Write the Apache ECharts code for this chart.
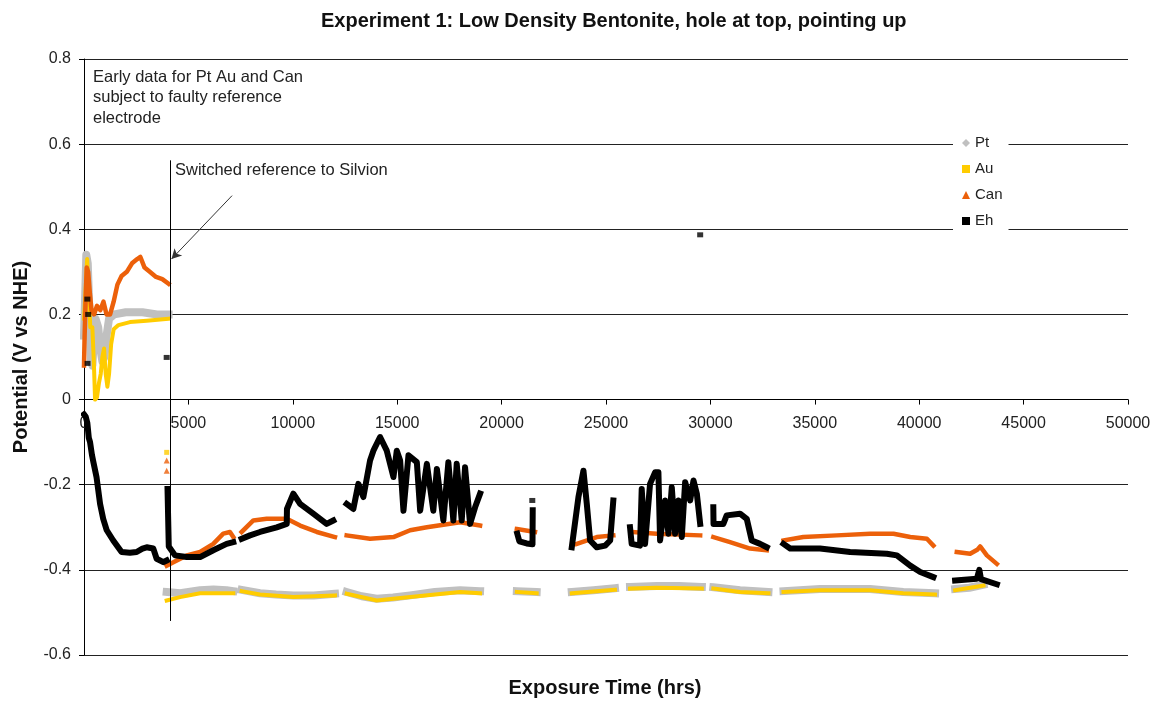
<!DOCTYPE html>
<html>
<head>
<meta charset="utf-8">
<title>Experiment 1: Low Density Bentonite</title>
<style>
  html, body { margin: 0; padding: 0; background: #fff; }
  #chart { width: 1160px; height: 702px; }
</style>
<script src="https://cdn.jsdelivr.net/npm/echarts@6.0.0/dist/echarts.min.js"></script>
</head>
<body>
<div id="chart"></div>
<script>
// [hours, volts]; [x, null] breaks the trace
const ptData = [
  [0, 0.15], [60, 0.25], [110, 0.34], [180, 0.32], [250, 0.22], [330, 0.09], [400, 0.08], [470, 0.14],
  [550, 0.19], [680, 0.17], [780, 0.12], [880, 0.09], [980, 0.1], [1080, 0.15], [1200, 0.19], [1450, 0.2],
  [2000, 0.205], [2800, 0.205], [3500, 0.2], [4050, 0.2], [4055, null],
  [3960, -0.452], [4600, -0.455], [5560, -0.448], [6200, -0.446], [6830, -0.448], [7150, -0.45], [7350, null],
  [7550, -0.447], [8430, -0.455], [9200, -0.458], [10030, -0.46], [11000, -0.46], [12020, -0.456], [12300, null],
  [12580, -0.452], [13300, -0.462], [14020, -0.468], [14800, -0.465], [15620, -0.46], [16800, -0.452], [18010, -0.448], [18970, -0.45], [19800, null],
  [20730, -0.45], [21680, -0.452], [22500, null],
  [23360, -0.452], [24400, -0.448], [25430, -0.443], [25800, null],
  [26150, -0.44], [27430, -0.438], [28500, -0.438], [29590, -0.44], [29850, null],
  [30140, -0.441], [31420, -0.448], [32780, -0.452], [33100, null],
  [33500, -0.45], [35250, -0.445], [37650, -0.445], [39240, -0.452], [40760, -0.455], [41200, null],
  [41720, -0.445], [42400, -0.442], [43080, -0.435],
];

const auData = [
  [0, 0.19], [80, 0.26], [150, 0.33], [220, 0.26], [300, 0.17], [400, 0.17], [470, 0.09], [530, 0.0],
  [620, 0.005], [720, 0.04], [800, 0.06], [880, 0.1], [960, 0.12], [1040, 0.06], [1120, 0.03], [1200, 0.06],
  [1300, 0.13], [1420, 0.165], [1650, 0.175], [2200, 0.182], [3000, 0.185], [4050, 0.19], [4055, null],
  [3960, -0.472], [4600, -0.464], [5560, -0.455], [6830, -0.455], [7150, -0.455], [7350, null],
  [7550, -0.45], [8430, -0.458], [10030, -0.464], [12020, -0.46], [12300, null],
  [12580, -0.456], [14020, -0.472], [15620, -0.464], [18010, -0.452], [18970, -0.455], [19800, null],
  [20730, -0.452], [21680, -0.455], [22500, null],
  [23360, -0.455], [25430, -0.447], [25800, null],
  [26150, -0.444], [27430, -0.442], [29590, -0.444], [29850, null],
  [30140, -0.444], [31420, -0.452], [32780, -0.455], [33100, null],
  [33500, -0.452], [35250, -0.448], [37650, -0.448], [39240, -0.455], [40760, -0.458], [41200, null],
  [41720, -0.448], [43080, -0.437],
];

const canData = [
  [0, 0.08], [30, 0.15], [70, 0.22], [130, 0.31], [200, 0.3], [280, 0.25], [360, 0.21], [480, 0.2],
  [620, 0.22], [780, 0.21], [930, 0.23], [1080, 0.2], [1250, 0.2], [1420, 0.23], [1600, 0.27], [1800, 0.29],
  [2050, 0.3], [2300, 0.32], [2550, 0.33], [2700, 0.335], [2900, 0.31], [3150, 0.3], [3450, 0.288],
  [3750, 0.283], [4050, 0.272], [4055, null],
  [3960, -0.39], [4280, -0.382], [4920, -0.366], [5560, -0.358], [6190, -0.339], [6670, -0.315], [6990, -0.311], [7150, -0.323], [7350, null],
  [7550, -0.311], [8110, -0.284], [8750, -0.28], [9710, -0.28], [10350, -0.296], [11150, -0.311], [12020, -0.323], [12300, null],
  [12580, -0.319], [13700, -0.327], [14820, -0.323], [15620, -0.307], [16420, -0.3], [18010, -0.288], [18970, -0.296], [19800, null],
  [20730, -0.304], [21600, -0.311], [22500, null],
  [23600, -0.339], [24560, -0.323], [25350, -0.319], [25800, null],
  [26230, -0.311], [27430, -0.315], [29510, -0.319], [29850, null],
  [30140, -0.323], [30940, -0.335], [31900, -0.35], [32700, -0.354], [33100, null],
  [33500, -0.331], [34450, -0.323], [36050, -0.319], [37650, -0.315], [38770, -0.315], [39570, -0.323], [40370, -0.327], [40680, -0.343], [41200, null],
  [41800, -0.358], [42440, -0.362], [42800, -0.352], [42920, -0.345], [43240, -0.366], [43720, -0.386],
];

const ehData = [
  [0, -0.035], [80, -0.04], [160, -0.055], [230, -0.09], [290, -0.1], [380, -0.13], [450, -0.147], [600, -0.182],
  [770, -0.245], [920, -0.28], [1090, -0.307], [1400, -0.331], [1800, -0.358], [2200, -0.36], [2520, -0.358],
  [2800, -0.35], [3000, -0.347], [3320, -0.35], [3480, -0.374], [3800, -0.382], [3960, -0.378], [3980, null],
  [4000, -0.21], [4060, -0.345], [4360, -0.366], [4920, -0.37], [5560, -0.37], [6190, -0.354], [6830, -0.339], [7150, -0.335], [7350, null],
  [7550, -0.327], [7950, -0.319], [8430, -0.311], [9230, -0.3], [9710, -0.292], [9720, -0.257], [10025, -0.221],
  [10350, -0.245], [10980, -0.268], [11620, -0.292], [11940, -0.284], [12300, null],
  [12580, -0.245], [12900, -0.257], [13140, -0.198], [13380, -0.229], [13700, -0.143], [13860, -0.12], [14180, -0.088],
  [14500, -0.12], [14820, -0.182], [14980, -0.12], [15140, -0.143], [15300, -0.261], [15540, -0.131], [15940, -0.147],
  [16100, -0.261], [16420, -0.151], [16730, -0.261], [16900, -0.163], [17210, -0.284], [17450, -0.147], [17690, -0.284],
  [17850, -0.151], [18090, -0.284], [18250, -0.159], [18490, -0.292], [18730, -0.253], [18970, -0.221], [19800, null],
  [20750, -0.315], [20850, -0.333], [21200, -0.338], [21480, -0.34], [21490, -0.26], [22500, null],
  [23360, -0.347], [23680, -0.229], [23920, -0.167], [24080, -0.245], [24240, -0.331], [24560, -0.347], [24960, -0.343],
  [25200, -0.331], [25350, -0.237], [25800, null],
  [26150, -0.3], [26230, -0.339], [26630, -0.343], [26710, -0.21], [26870, -0.339], [27110, -0.198], [27350, -0.171],
  [27510, -0.171], [27590, -0.331], [27830, -0.237], [27990, -0.315], [28150, -0.206], [28310, -0.315], [28470, -0.237],
  [28630, -0.323], [28790, -0.194], [29030, -0.237], [29190, -0.19], [29350, -0.221], [29510, -0.292], [29850, null],
  [30140, -0.253], [30150, -0.292], [30620, -0.292], [30780, -0.272], [31420, -0.268], [31740, -0.28], [31980, -0.331],
  [32380, -0.339], [32700, -0.347], [33100, null],
  [33500, -0.339], [33820, -0.35], [35250, -0.35], [36690, -0.358], [38450, -0.362], [38930, -0.366], [39570, -0.39],
  [40050, -0.405], [40680, -0.417], [41200, null],
  [41720, -0.425], [42760, -0.421], [42880, -0.4], [42960, -0.422], [43720, -0.434],
];

// stray single readings
const auDots = [[3960, -0.124]];
const canDots = [[3960, -0.143], [3960, -0.167]];
const ehDots = [[160, 0.236], [200, 0.2], [170, 0.085], [3960, 0.099], [21470, -0.237], [29510, 0.387]];

const SWITCH_LINE = [[4120, 0.562], [4120, -0.52]];
const ARROW = [[7090, 0.479], [4190, 0.33]];

const Y_MIN = -0.6;
const Y_MAX = 0.8;
const GRID = { left: 84, right: 32, top: 59, bottom: 47 };
const PLOT_HEIGHT = 702 - GRID.top - GRID.bottom;
// the x axis sits on y = 0, so pull it up from the bottom edge
const X_AXIS_OFFSET = -PLOT_HEIGHT * (0 - Y_MIN) / (Y_MAX - Y_MIN);

const FONT = '"Liberation Sans", Arial, sans-serif';
const COLORS = { Pt: '#C0C0C0', Au: '#FFCC00', Can: '#EC600A', Eh: '#000000' };

function trace(name, data, width, z) {
  return {
    name, type: 'line', data, z,
    symbol: 'none', showSymbol: false, connectNulls: false,
    lineStyle: { color: COLORS[name], width, join: 'round', cap: 'square' },
    itemStyle: { color: COLORS[name] },
    animation: false, silent: true,
  };
}

function dots(name, data, symbol, size, z) {
  return {
    name, type: 'scatter', data, z, symbol, symbolSize: size,
    itemStyle: { color: COLORS[name] },
    animation: false, silent: true,
  };
}

const ehTrace = trace('Eh', ehData, 6, 5);
ehTrace.markLine = {
  silent: true,
  animation: false,
  symbol: ['none', 'none'],
  label: { show: false },
  lineStyle: { color: '#000', width: 1, type: 'solid' },
  data: [
    [{ coord: SWITCH_LINE[0] }, { coord: SWITCH_LINE[1] }],
    [
      { coord: ARROW[0], symbol: 'none', lineStyle: { color: '#333' } },
      { coord: ARROW[1], symbol: 'arrow', symbolSize: [8, 10] },
    ],
  ],
};

const chart = echarts.init(document.getElementById('chart'));
chart.setOption({
  backgroundColor: '#fff',
  animation: false,
  textStyle: { fontFamily: FONT },
  title: {
    text: 'Experiment 1: Low Density Bentonite, hole at top, pointing up',
    left: 316,
    top: 6,
    textStyle: { fontFamily: FONT, fontSize: 20, fontWeight: 'bold', color: '#111' },
  },
  grid: GRID,
  legend: {
    orient: 'vertical',
    left: 953,
    top: 130,
    padding: [4, 6, 4, 9],
    backgroundColor: '#fff',
    itemWidth: 8,
    itemHeight: 8,
    itemGap: 8,
    textStyle: { fontFamily: FONT, fontSize: 15, lineHeight: 18, color: '#222' },
    data: [
      { name: 'Pt', icon: 'diamond' },
      { name: 'Au', icon: 'rect' },
      { name: 'Can', icon: 'triangle' },
      { name: 'Eh', icon: 'rect' },
    ],
    selectedMode: false,
  },
  xAxis: {
    type: 'value',
    min: 0,
    max: 50000,
    interval: 5000,
    position: 'bottom',
    offset: X_AXIS_OFFSET,
    axisLine: { onZero: false, lineStyle: { color: '#000', width: 1 } },
    axisTick: { show: true, length: 5, lineStyle: { color: '#000' } },
    axisLabel: { fontFamily: FONT, fontSize: 16, color: '#222', margin: 16, formatter: (v) => String(v) },
    splitLine: { show: false },
  },
  yAxis: {
    type: 'value',
    min: Y_MIN,
    max: Y_MAX,
    interval: 0.2,
    name: 'Potential (V vs NHE)',
    nameLocation: 'middle',
    nameGap: 53,
    nameTextStyle: { fontFamily: FONT, fontSize: 20, fontWeight: 'bold', color: '#111' },
    axisLine: { show: true, lineStyle: { color: '#000', width: 1 } },
    axisTick: { show: true, length: 5, lineStyle: { color: '#000' } },
    axisLabel: { fontFamily: FONT, fontSize: 16, color: '#222', margin: 13, formatter: (v) => String(Math.round(v * 10) / 10) },
    splitLine: { show: true, lineStyle: { color: '#222', width: 1 } },
  },
  graphic: [
    {
      type: 'text', left: 93, top: 67, silent: true,
      style: {
        text: 'Early data for Pt Au and Can\nsubject to faulty reference\nelectrode',
        font: '16.5px ' + FONT, lineHeight: 20.5, fill: '#222',
      },
    },
    {
      type: 'text', left: 175, top: 162, silent: true,
      style: { text: 'Switched reference to Silvion', font: '16.5px ' + FONT, fill: '#222' },
    },
    {
      type: 'text', x: 605, y: 688, silent: true,
      style: {
        text: 'Exposure Time (hrs)', font: 'bold 20px ' + FONT, fill: '#111',
        align: 'center', verticalAlign: 'middle',
      },
    },
  ],
  series: [
    trace('Pt', ptData, 8, 2),
    trace('Au', auData, 4, 3),
    trace('Can', canData, 4.5, 4),
    ehTrace,
    dots('Au', auDots, 'rect', 5, 3),
    dots('Can', canDots, 'triangle', 6, 4),
    dots('Eh', ehDots, 'rect', [6, 5], 5),
  ],
});
</script>
</body>
</html>
